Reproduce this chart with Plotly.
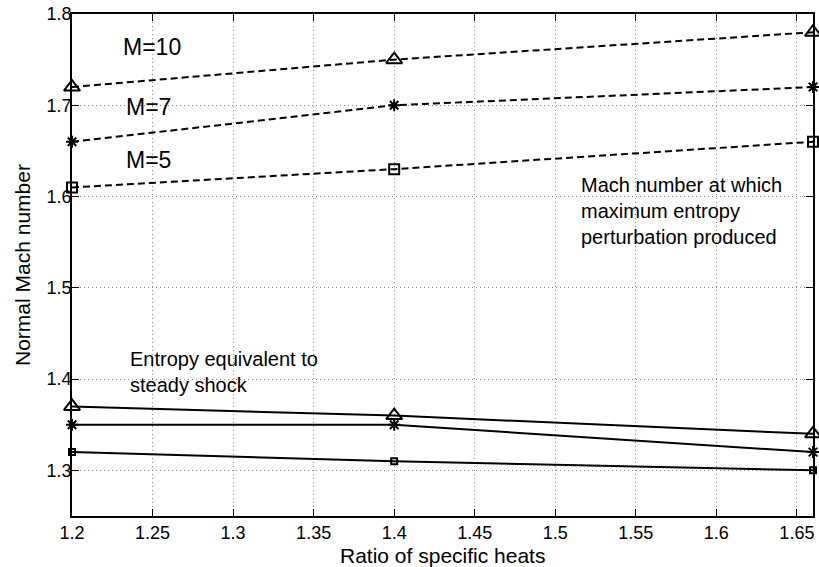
import plotly.graph_objects as go

gamma = [1.2, 1.4, 1.66]

# Mach number at which maximum entropy perturbation produced (dashed)
max_m10 = [1.72, 1.75, 1.78]
max_m7 = [1.66, 1.70, 1.72]
max_m5 = [1.61, 1.63, 1.66]

# Entropy equivalent to steady shock (solid)
eq_m10 = [1.37, 1.36, 1.34]
eq_m7 = [1.35, 1.35, 1.32]
eq_m5 = [1.32, 1.31, 1.30]

xticks = [1.2, 1.25, 1.3, 1.35, 1.4, 1.45, 1.5, 1.55, 1.6, 1.65]
yticks = [1.3, 1.4, 1.5, 1.6, 1.7, 1.8]

FONT = "Liberation Sans, Arial, Helvetica, sans-serif"

fig = go.Figure()

def add(y, dash, symbol, size):
    fig.add_trace(go.Scatter(
        x=gamma, y=y, mode="lines+markers",
        line=dict(color="black", width=2, dash=dash),
        marker=dict(symbol=symbol, size=size, color="black",
                    line=dict(color="black", width=2)),
        cliponaxis=False, showlegend=False, hoverinfo="skip"))

add(max_m10, "7px,4px", "triangle-up-open", 14)
add(max_m7, "7px,4px", "asterisk-open", 10)
add(max_m5, "7px,4px", "square-open", 10)
add(eq_m10, "solid", "triangle-up-open", 14)
add(eq_m7, "solid", "asterisk-open", 10)
add(eq_m5, "solid", "square-open", 6)

ann_font = dict(family=FONT, size=20, color="black")
big_font = dict(family=FONT, size=23, color="black")
fig.add_annotation(x=1.2496, y=1.7639, text="M=10", showarrow=False, font=big_font)
fig.add_annotation(x=1.2477, y=1.6976, text="M=7", showarrow=False, font=big_font)
fig.add_annotation(x=1.2477, y=1.640, text="M=5", showarrow=False, font=big_font)
fig.add_annotation(x=1.515, y=1.5842, xanchor="left", yanchor="middle", align="left",
                   text="Mach number at which<br>maximum entropy<br>perturbation produced",
                   showarrow=False, font=ann_font)
fig.add_annotation(x=1.2347, y=1.408, xanchor="left", yanchor="middle", align="left",
                   text="Entropy equivalent to<br>steady shock",
                   showarrow=False, font=ann_font)

# axis titles
fig.add_annotation(xref="paper", yref="paper", x=0.5, y=0, yanchor="middle",
                   yshift=-39, text="Ratio of specific heats", showarrow=False,
                   font=dict(family=FONT, size=21, color="black"))
fig.add_annotation(xref="paper", yref="paper", x=0, y=0.5, xanchor="center",
                   xshift=-50, textangle=-90, text="Normal Mach number",
                   showarrow=False, font=dict(family=FONT, size=21, color="black"))

axis_common = dict(
    showline=True, linecolor="black", linewidth=1.5, mirror="ticks",
    ticks="inside", ticklen=7, tickcolor="black", tickwidth=1.2,
    showgrid=True, gridcolor="#8a8a8a", gridwidth=1, griddash="1px,3px",
    zeroline=False, automargin=False, ticklabeloverflow="allow",
    tickfont=dict(family=FONT, size=18, color="black"),
)

fig.update_xaxes(range=[1.2, 1.66], tickvals=xticks,
                 ticktext=[f"{v:g}" for v in xticks], **axis_common)
fig.update_yaxes(range=[1.25, 1.8], tickvals=yticks,
                 ticktext=[f"{v:g}" for v in yticks],
                 ticklabelstandoff=-5, **axis_common)

fig.update_layout(width=819, height=567,
                  margin=dict(l=72, r=6, t=14, b=51),
                  paper_bgcolor="white", plot_bgcolor="white",
                  hovermode=False)

# remove the default page margin so the figure fills the window exactly
fig.write_html("out.html",
               config={"displayModeBar": False},
               post_script="document.body.style.margin='0';"
                           "document.body.style.overflow='hidden';")
